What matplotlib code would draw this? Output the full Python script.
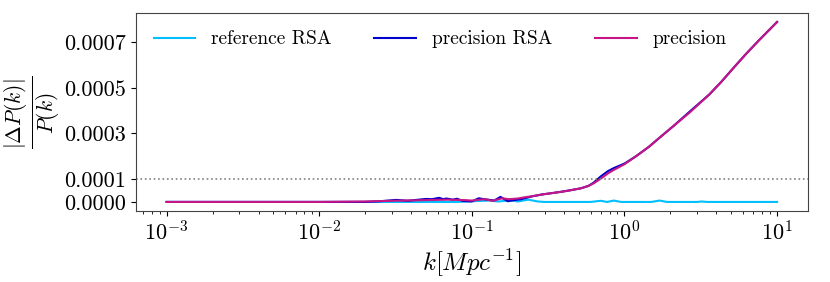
import matplotlib
matplotlib.use("Agg")
import matplotlib.pyplot as plt
import numpy as np

plt.rcParams['font.family'] = 'serif'
plt.rcParams['font.serif'] = ['cmr10']
plt.rcParams['mathtext.fontset'] = 'cm'
plt.rcParams['axes.unicode_minus'] = False
plt.rcParams['axes.formatter.use_mathtext'] = True

# data (relative difference)
# --------------------------------------------------
k_ref = [0.001, 0.01, 0.08, 0.1, 0.13, 0.15, 0.18, 0.2, 0.234, 0.27, 0.3, 0.6,
         0.7, 0.77, 0.85, 0.95, 1.5, 1.7, 1.9, 3.0, 3.2, 3.5, 10.0]
d_ref = [0, 0, 0, 0.03, 0.06, 0.02, 0.08, 0.02, 0.10, 0.02, 0, 0,
         0.05, 0, 0.06, 0, 0, 0.06, 0, 0, 0.02, 0, 0]

k_rsa = [0.001, 0.02, 0.025, 0.032, 0.038, 0.045, 0.05, 0.055, 0.061, 0.065,
         0.068, 0.075, 0.08, 0.087, 0.1, 0.111, 0.12, 0.128, 0.14, 0.154, 0.172,
         0.19, 0.21, 0.25, 0.29, 0.33, 0.39, 0.45, 0.52, 0.58, 0.63, 0.7, 0.78,
         0.85, 1.0, 1.19, 1.45, 1.71, 2.1, 2.5, 2.67, 3.59, 4.3, 5.28, 6.3,
         7.54, 10.0]
d_rsa = [0, 0, 0.03, 0.09, 0.05, 0.10, 0.13, 0.12, 0.18, 0.12,
         0.15, 0.10, 0.14, 0.04, 0.02, 0.16, 0.12, 0.10, 0.06, 0.22, 0.03,
         0.08, 0.12, 0.25, 0.33, 0.38, 0.45, 0.52, 0.60, 0.70, 0.85, 1.12, 1.35,
         1.48, 1.68, 2.0, 2.42, 2.83, 3.33, 3.78, 3.95, 4.70, 5.25, 5.93, 6.50,
         7.05, 7.88]

k_prec = [0.001, 0.01, 0.02, 0.03, 0.05, 0.07, 0.09, 0.1, 0.12, 0.137, 0.158,
          0.175, 0.2, 0.23, 0.25, 0.29, 0.33, 0.39, 0.45, 0.52, 0.58, 0.63, 0.7,
          0.78, 0.85, 1.0, 1.19, 1.45, 1.71, 2.1, 2.67, 3.59, 4.3, 5.28, 6.3,
          7.54, 10.0]
d_prec = [0, 0, 0.02, 0.05, 0.08, 0.10, 0.08, 0.06, 0.12, 0.05, 0.16,
          0.12, 0.15, 0.22, 0.25, 0.33, 0.38, 0.45, 0.52, 0.60, 0.70, 0.82, 1.02,
          1.25, 1.40, 1.65, 2.0, 2.42, 2.83, 3.33, 3.91, 4.70, 5.25, 5.93, 6.50,
          7.05, 7.88]

scale = 1e-4
yticks = [0.0, 0.0001, 0.0003, 0.0005, 0.0007]

fig = plt.figure(figsize=(8.3, 2.82), dpi=100)
ax = fig.add_axes([0.164, 0.252, 0.809, 0.702])

ax.plot(k_ref, np.array(d_ref) * scale, color='deepskyblue', lw=1.5, label='reference RSA')
ax.plot(k_rsa, np.array(d_rsa) * scale, color='mediumblue', lw=1.5, label='precision RSA')
ax.plot(k_prec, np.array(d_prec) * scale, color='mediumvioletred', lw=1.5, label='precision')
ax.axhline(0.0001, color='gray', ls=':', lw=1.2)

ax.set_xscale('log')
ax.set_yticks(yticks)
ax.set_yticklabels(['%.4f' % t for t in yticks])
ax.tick_params(labelsize=16)
ax.set_xlabel(r'$k [Mpc^{-1}]$', fontsize=18, labelpad=2)
ax.set_ylabel(r'$\frac{|\Delta P(k)|}{P(k)}$', fontsize=22, labelpad=2)
for s in ax.spines.values():
    s.set_color('#444444')

ax.legend(loc='upper left', ncol=3, frameon=False, fontsize=14, handlelength=2.15,
          handletextpad=0.8, columnspacing=2.2, bbox_to_anchor=(0.0, 1.0))

fig.savefig('out.png', dpi=100)
